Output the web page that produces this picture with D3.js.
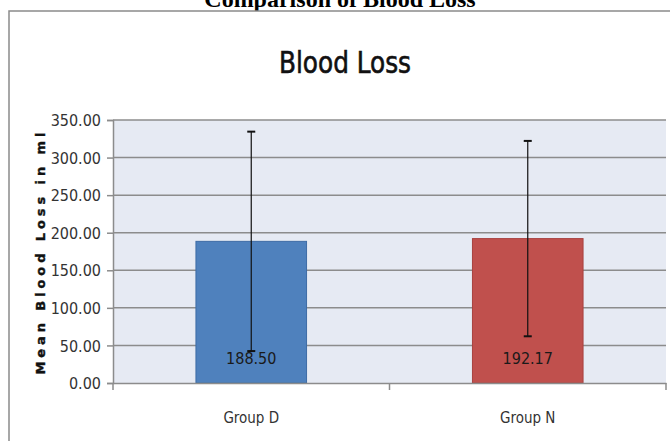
<!DOCTYPE html>
<html><head><meta charset="utf-8">
<script src="https://cdn.jsdelivr.net/npm/d3@7"></script>
<style>
html,body{margin:0;padding:0;background:#fff;}
svg{display:block;}
</style>
</head><body>
<svg id="c" width="670" height="441"></svg>
<script>
const categories = ["Group D", "Group N"];
const meanValues = [188.50, 192.17];
const sdValues = [146, 130];
const valueLabels = ["188.50", "192.17"];
const yTicks = [0, 50, 100, 150, 200, 250, 300, 350];
const barColors = ["#4F81BD", "#C0504D"];
const barStrokes = ["#3D6CA5", "#A8413E"];

const svg = d3.select("#c");
const plot = {left: 113, right: 666, top: 120, bottom: 383};
const narrow = "'Liberation Sans Narrow','Arial Narrow','DejaVu Sans Condensed',sans-serif";

// page title (partly cut off at top, as in reference)
svg.append("text").attr("x", 340).attr("y", 7)
  .attr("text-anchor", "middle")
  .attr("font-family", "'Liberation Serif','Times New Roman',serif")
  .attr("font-weight", "bold").attr("font-size", 24)
  .attr("fill", "#000").text("Comparison of Blood Loss");

// chart frame with soft shadow
svg.append("rect").attr("x", 10).attr("y", 12).attr("width", 680).attr("height", 450)
  .attr("fill", "none").attr("stroke", "#d0d0d0").attr("stroke-width", 2);
svg.append("rect").attr("x", 9).attr("y", 11).attr("width", 680).attr("height", 450)
  .attr("fill", "#fff").attr("stroke", "#8a8a8a").attr("stroke-width", 1.5);

// chart title
svg.append("text").attr("x", 345).attr("y", 73)
  .attr("text-anchor", "middle")
  .attr("font-family", "'DejaVu Sans Condensed',sans-serif")
  .attr("font-size", 31).attr("fill", "#111")
  .attr("stroke", "#111").attr("stroke-width", 0.6)
  .attr("textLength", 132).attr("lengthAdjust", "spacingAndGlyphs")
  .text("Blood Loss");

const x = d3.scaleBand().domain(categories).range([plot.left, plot.right])
  .paddingInner(0.6).paddingOuter(0.3);
const y = d3.scaleLinear().domain([0, 350]).range([plot.bottom, plot.top]);

// plot background
svg.append("rect").attr("x", plot.left).attr("y", plot.top)
  .attr("width", plot.right - plot.left).attr("height", plot.bottom - plot.top)
  .attr("fill", "#E6EAF3");

// gridlines
svg.append("g").selectAll("line").data(yTicks.filter(d => d > 0)).join("line")
  .attr("x1", plot.left).attr("x2", plot.right)
  .attr("y1", d => y(d)).attr("y2", d => y(d))
  .attr("stroke", "#8c8c8c").attr("stroke-width", 1.5);

// bars
svg.append("g").selectAll("rect").data(categories).join("rect")
  .attr("x", d => x(d)).attr("width", x.bandwidth())
  .attr("y", (d, i) => y(meanValues[i]))
  .attr("height", (d, i) => y(0) - y(meanValues[i]))
  .attr("fill", (d, i) => barColors[i])
  .attr("stroke", (d, i) => barStrokes[i]).attr("stroke-width", 1);

// error bars
const eb = svg.append("g").attr("stroke", "#111").attr("stroke-width", 1.2);
categories.forEach((c, i) => {
  const cx = x(c) + x.bandwidth() / 2;
  const hi = y(meanValues[i] + sdValues[i]);
  const lo = y(meanValues[i] - sdValues[i]);
  eb.append("line").attr("x1", cx).attr("x2", cx).attr("y1", hi).attr("y2", lo);
  eb.append("line").attr("x1", cx - 4).attr("x2", cx + 4).attr("y1", hi).attr("y2", hi).attr("stroke-width", 2);
  eb.append("line").attr("x1", cx - 4).attr("x2", cx + 4).attr("y1", lo).attr("y2", lo).attr("stroke-width", 2);
});

// value labels
svg.append("g").selectAll("text").data(categories).join("text")
  .attr("x", d => x(d) + x.bandwidth() / 2).attr("y", 364)
  .attr("text-anchor", "middle")
  .attr("font-family", narrow).attr("font-size", 16).attr("fill", "#1a1a1a")
  .text((d, i) => valueLabels[i]);

// y axis
const yAxis = d3.axisLeft(y).tickValues(yTicks).tickFormat(d3.format(".2f"))
  .tickSize(6).tickPadding(6);
const gy = svg.append("g").attr("transform", `translate(${plot.left},0)`).call(yAxis);
gy.select(".domain").attr("stroke", "#8c8c8c").attr("stroke-width", 1.5);
gy.selectAll(".tick line").attr("stroke", "#8c8c8c").attr("stroke-width", 1.5);
gy.selectAll(".tick text").attr("font-family", narrow).attr("font-size", 16)
  .attr("fill", "#333").attr("dy", "0.35em");

// x axis
const xAxis = d3.axisBottom(x).tickSize(0).tickPadding(29);
const gx = svg.append("g").attr("transform", `translate(0,${plot.bottom})`).call(xAxis);
gx.select(".domain").attr("stroke", "#8c8c8c").attr("stroke-width", 1.5);
gx.selectAll(".tick text").attr("font-family", narrow).attr("font-size", 15).attr("fill", "#333");
// category boundary tick marks
const bounds = [plot.left, (x(categories[0]) + x.bandwidth() + x(categories[1])) / 2, plot.right];
gx.selectAll("line.bt").data(bounds).join("line").attr("class", "bt")
  .attr("x1", d => d).attr("x2", d => d).attr("y1", 0).attr("y2", 7)
  .attr("stroke", "#8c8c8c").attr("stroke-width", 1.5);

// y axis title
svg.append("text")
  .attr("transform", `translate(45,${(plot.top + plot.bottom) / 2 + 2}) rotate(-90)`)
  .attr("text-anchor", "middle")
  .attr("font-family", "'DejaVu Sans',sans-serif").attr("font-weight", "bold")
  .attr("font-size", 13).attr("fill", "#111")
  .attr("stroke", "#111").attr("stroke-width", 0.4)
  .attr("textLength", 242).attr("lengthAdjust", "spacing")
  .text("Mean Blood Loss in ml");
</script>
</body></html>
